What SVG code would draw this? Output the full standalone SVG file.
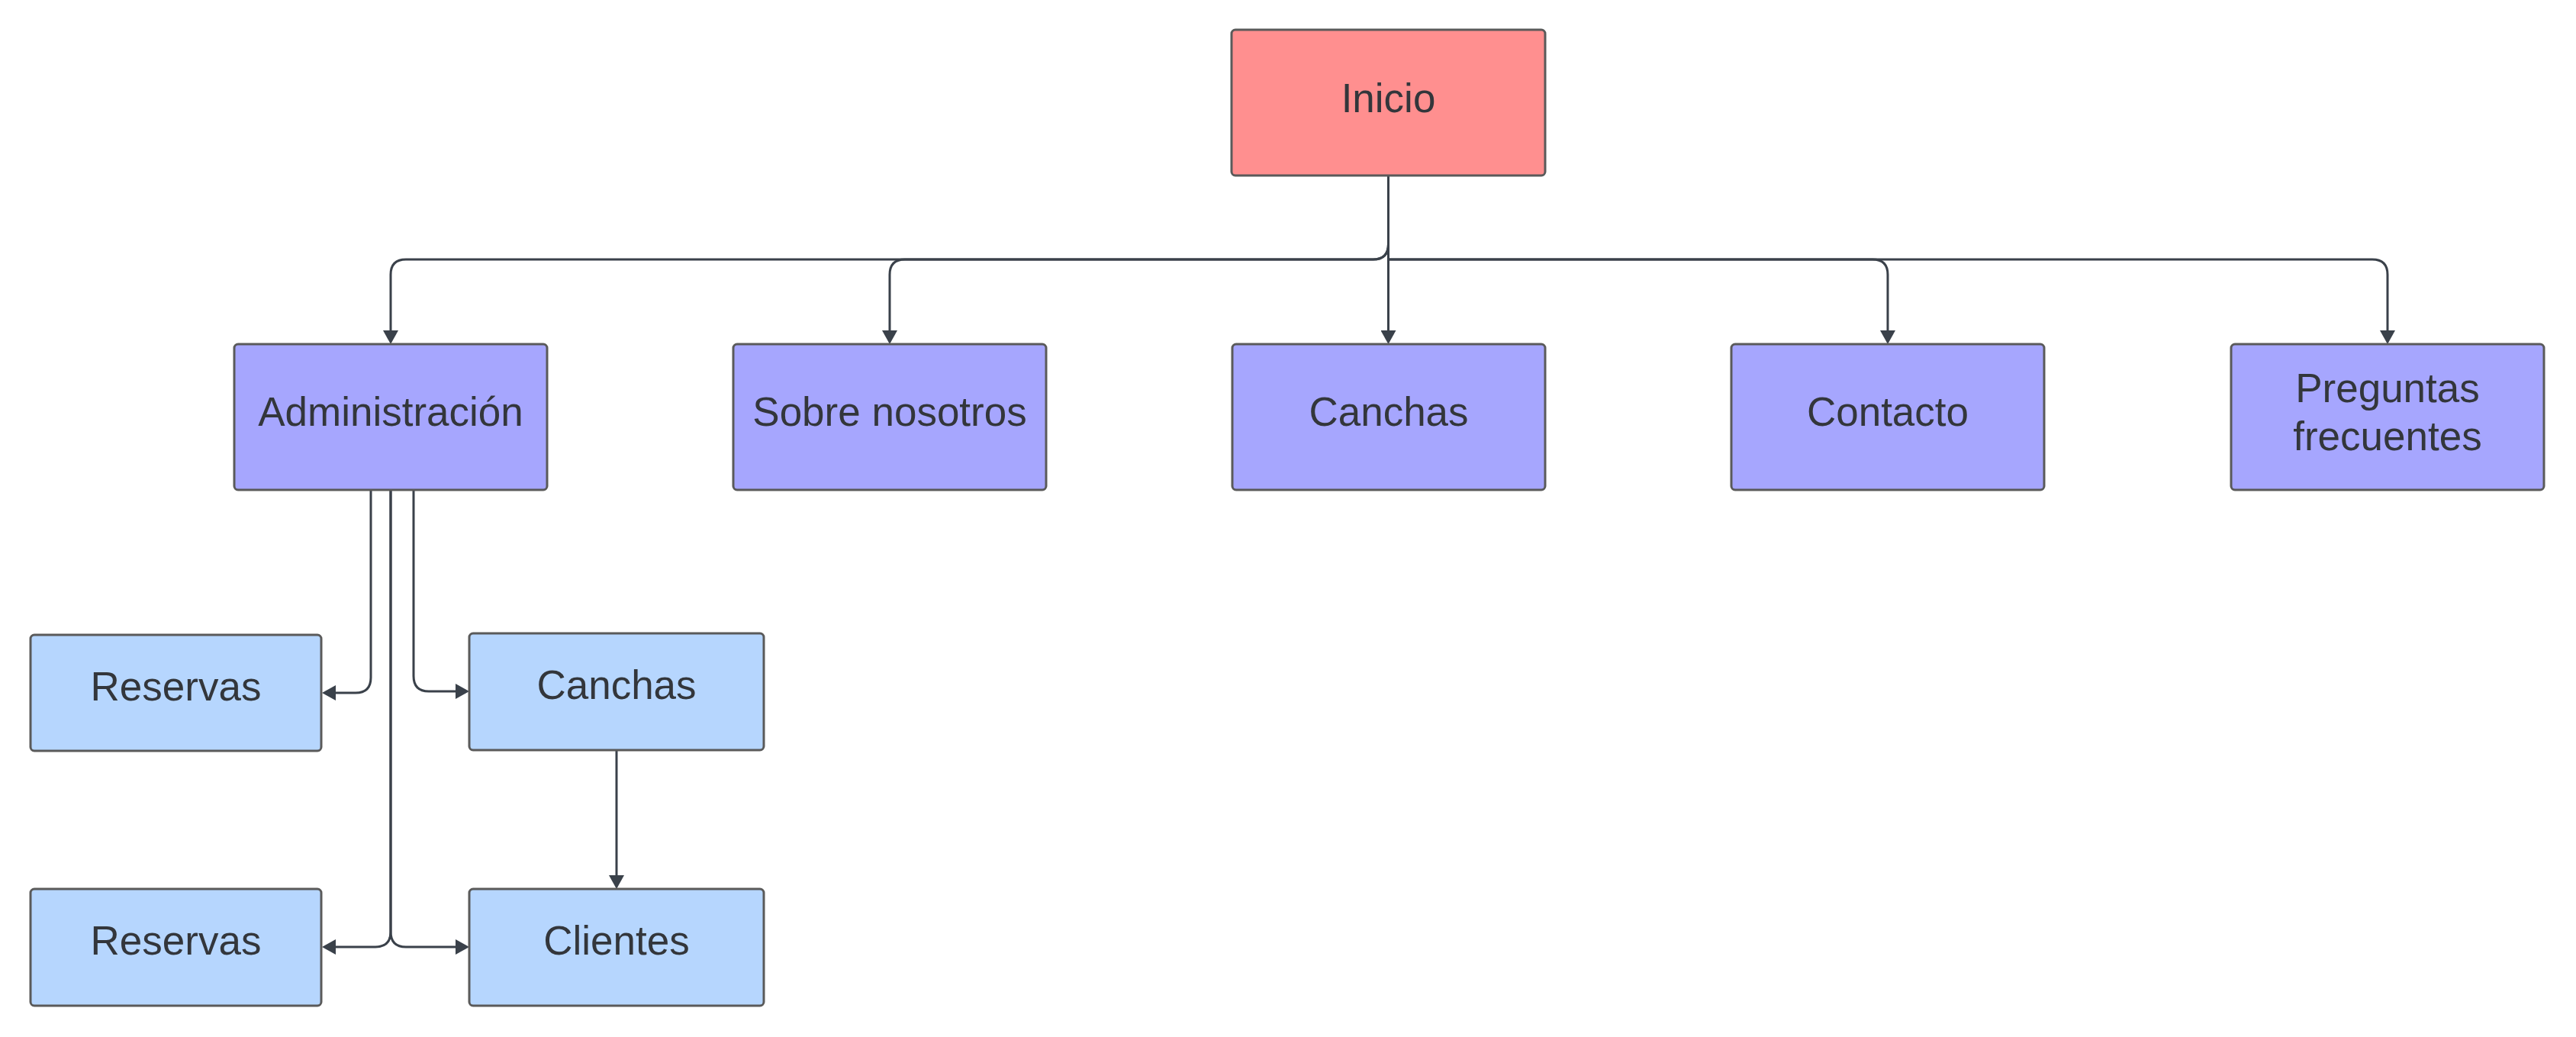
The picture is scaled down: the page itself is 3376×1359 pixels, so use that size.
<svg xmlns="http://www.w3.org/2000/svg" width="3376" height="1359" viewBox="0 0 3376 1359">
<style>
.box{stroke:#5a5a5a;stroke-width:3}
.red{fill:#ff8f8f}
.purple{fill:#a6a6fe}
.blue{fill:#b6d6fe}
.lbl{font-family:"Liberation Sans",Arial,sans-serif;font-size:53px;fill:#33363b;text-anchor:middle}
.con{fill:none;stroke:#3a414a;stroke-width:3;marker-end:url(#arr)}
</style>
<defs>
<marker id="arr" viewBox="0 0 18 20" refX="8" refY="10" markerWidth="18" markerHeight="20" markerUnits="userSpaceOnUse" orient="auto">
<path d="M0,0 L18,10 L0,20 z" fill="#3a414a"/>
</marker>
</defs>
<rect width="3376" height="1359" fill="#ffffff"/>
<g id="connectors">
<path class="con" d="M1819.5,230 V320 Q1819.5,340 1799.5,340 H532 Q512,340 512,360 V441"/>
<path class="con" d="M1819.5,230 V320 Q1819.5,340 1799.5,340 H1186 Q1166,340 1166,360 V441"/>
<path class="con" d="M1819.5,230 V441"/>
<path class="con" d="M1819.5,230 V340 H2454 Q2474,340 2474,360 V441"/>
<path class="con" d="M1819.5,230 V340 H3109 Q3129,340 3129,360 V441"/>
<path class="con" d="M486,642 V888 Q486,908 466,908 H432"/>
<path class="con" d="M542,642 V886 Q542,906 562,906 H605"/>
<path class="con" d="M512,642 V1221 Q512,1241 492,1241 H432"/>
<path class="con" d="M512,642 V1221 Q512,1241 532,1241 H605"/>
<path class="con" d="M808,983 V1155"/>
</g>
<g id="inicio"><rect class="box red" x="1614" y="39" width="411" height="191" rx="5"/><text class="lbl" x="1819.5" y="147">Inicio</text></g>
<g id="administracion"><rect class="box purple" x="307" y="451" width="410" height="191" rx="5"/><text class="lbl" x="512" y="558">Administración</text></g>
<g id="sobre-nosotros"><rect class="box purple" x="961" y="451" width="410" height="191" rx="5"/><text class="lbl" x="1166" y="558">Sobre nosotros</text></g>
<g id="canchas"><rect class="box purple" x="1615" y="451" width="410" height="191" rx="5"/><text class="lbl" x="1820" y="558">Canchas</text></g>
<g id="contacto"><rect class="box purple" x="2269" y="451" width="410" height="191" rx="5"/><text class="lbl" x="2474" y="558">Contacto</text></g>
<g id="preguntas-frecuentes"><rect class="box purple" x="2924" y="451" width="410" height="191" rx="5"/><text class="lbl" x="3129" y="527">Preguntas</text><text class="lbl" x="3129" y="590">frecuentes</text></g>
<g id="reservas-1"><rect class="box blue" x="40" y="832" width="381" height="152" rx="5"/><text class="lbl" x="230.5" y="918">Reservas</text></g>
<g id="canchas-sub"><rect class="box blue" x="615" y="830" width="386" height="153" rx="5"/><text class="lbl" x="808" y="916">Canchas</text></g>
<g id="reservas-2"><rect class="box blue" x="40" y="1165" width="381" height="153" rx="5"/><text class="lbl" x="230.5" y="1251">Reservas</text></g>
<g id="clientes"><rect class="box blue" x="615" y="1165" width="386" height="153" rx="5"/><text class="lbl" x="808" y="1251">Clientes</text></g>
</svg>
